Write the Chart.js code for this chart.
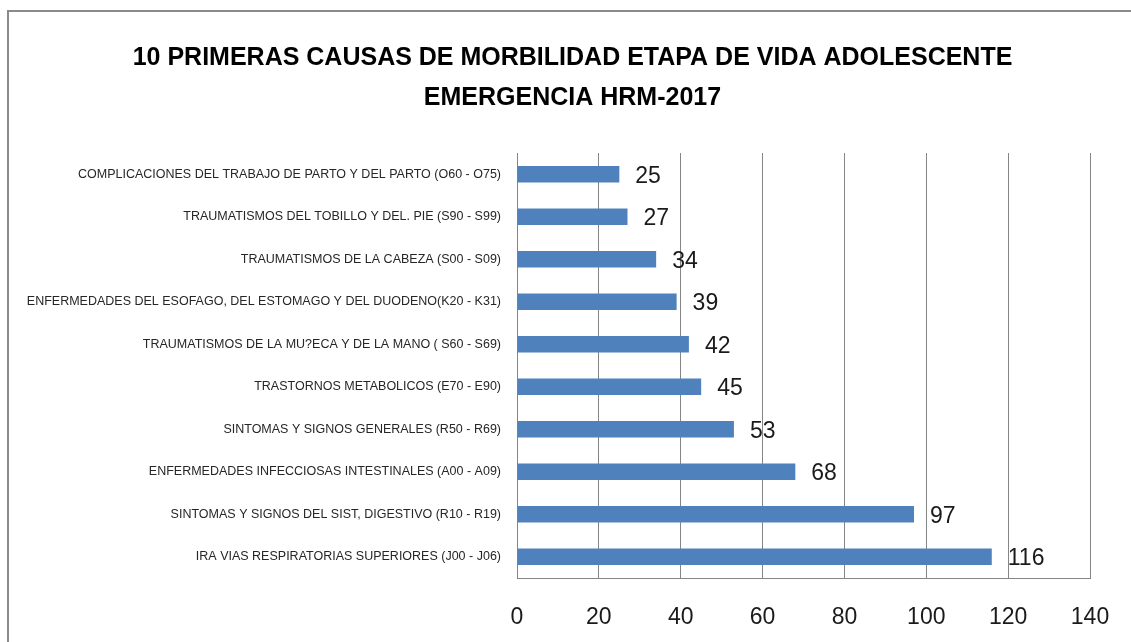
<!DOCTYPE html>
<html>
<head>
<meta charset="utf-8">
<title>Morbilidad adolescente - Emergencia HRM 2017</title>
<style>
  html, body { margin: 0; padding: 0; background: #fff; }
  #chart-container { width: 1131px; height: 642px; }
</style>
</head>
<body>
<div id="chart-container">
  <canvas id="mycanvas" width="1131" height="642"></canvas>
</div>

<script src="https://cdn.jsdelivr.net/npm/chart.js@4.4.1/dist/chart.umd.min.js"></script>
<script>
// datos (de arriba hacia abajo)
var causas = [
  'COMPLICACIONES DEL TRABAJO DE PARTO Y DEL PARTO (O60 - O75)',
  'TRAUMATISMOS DEL TOBILLO Y DEL. PIE (S90 - S99)',
  'TRAUMATISMOS DE LA CABEZA (S00 - S09)',
  'ENFERMEDADES DEL ESOFAGO, DEL ESTOMAGO Y DEL DUODENO(K20 - K31)',
  'TRAUMATISMOS DE LA MU?ECA Y DE LA MANO ( S60 - S69)',
  'TRASTORNOS METABOLICOS (E70 - E90)',
  'SINTOMAS Y SIGNOS GENERALES (R50 - R69)',
  'ENFERMEDADES INFECCIOSAS INTESTINALES (A00 - A09)',
  'SINTOMAS Y SIGNOS DEL SIST, DIGESTIVO (R10 - R19)',
  'IRA VIAS RESPIRATORIAS SUPERIORES (J00 - J06)'
];
var casos = [25, 27, 34, 39, 42, 45, 53, 68, 97, 116];
var ejeMin = 0;
var ejeMax = 140;
var ejePaso = 20;
var titulo = [
  '10 PRIMERAS CAUSAS DE MORBILIDAD ETAPA DE VIDA ADOLESCENTE',
  'EMERGENCIA HRM-2017'
];

var fuente = '"Liberation Sans", Arial, sans-serif';

// marco gris arriba e izquierda, como el area del grafico de excel
var marco = {
  id: 'marco',
  beforeDraw: function(chart) {
    var ctx = chart.ctx;
    ctx.save();
    ctx.fillStyle = '#ffffff';
    ctx.fillRect(0, 0, chart.width, chart.height);
    ctx.fillStyle = '#8a8a8a';
    ctx.fillRect(7, 10, chart.width - 7, 2);
    ctx.fillRect(7, 10, 2, chart.height - 10);
    ctx.restore();
  }
};

// etiquetas de valor al final de cada barra
var etiquetas = {
  id: 'etiquetas',
  afterDatasetsDraw: function(chart) {
    var ctx = chart.ctx;
    var meta = chart.getDatasetMeta(0);
    ctx.save();
    ctx.font = '23px ' + fuente;
    ctx.fillStyle = '#1a1a1a';
    ctx.textAlign = 'left';
    ctx.textBaseline = 'middle';
    meta.data.forEach(function(bar, i) {
      ctx.fillText(String(chart.data.datasets[0].data[i]), bar.x + 16, bar.y + 2);
    });
    ctx.restore();
  }
};

var ctx = document.getElementById('mycanvas');

var chartdata = {
  labels: causas,
  datasets: [
    {
      label: 'Casos',
      backgroundColor: '#4f81bd',
      borderWidth: 0,
      categoryPercentage: 0.8,
      barPercentage: 0.48,
      data: casos
    }
  ]
};

var barGraph = new Chart(ctx, {
  type: 'bar',
  data: chartdata,
  plugins: [marco, etiquetas],
  options: {
    indexAxis: 'y',
    responsive: false,
    animation: false,
    layout: {
      padding: { left: 14, right: 0, top: 0, bottom: 0 }
    },
    plugins: {
      legend: { display: false },
      tooltip: { enabled: false },
      title: {
        display: true,
        text: titulo,
        color: '#000000',
        font: { family: fuente, size: 25, weight: 'bold', lineHeight: 40 / 25 },
        padding: { top: 38, bottom: 35 }
      }
    },
    scales: {
      x: {
        min: ejeMin,
        max: ejeMax,
        afterFit: function(scale) { scale.height = 64; },
        ticks: {
          stepSize: ejePaso,
          color: '#1a1a1a',
          padding: 4,
          font: { family: fuente, size: 23 }
        },
        grid: {
          color: '#858585',
          lineWidth: 1,
          drawTicks: true,
          tickLength: 22,
          tickColor: 'rgba(0,0,0,0)'
        },
        border: { display: true, color: '#858585', width: 1 }
      },
      y: {
        afterFit: function(scale) { scale.width = 503; },
        ticks: {
          color: '#262626',
          padding: 16,
          autoSkip: false,
          font: { family: fuente, size: 12.5 }
        },
        grid: { display: false, drawTicks: false },
        border: { display: true, color: '#858585', width: 1 }
      },
      // margen derecho vacio (deja el area del grafico hasta el 140)
      margen: {
        type: 'category',
        axis: 'y',
        position: 'right',
        afterFit: function(scale) { scale.width = 41; },
        ticks: { display: false },
        grid: { display: false, drawTicks: false },
        border: { display: false }
      }
    }
  }
});
</script>
</body>
</html>
